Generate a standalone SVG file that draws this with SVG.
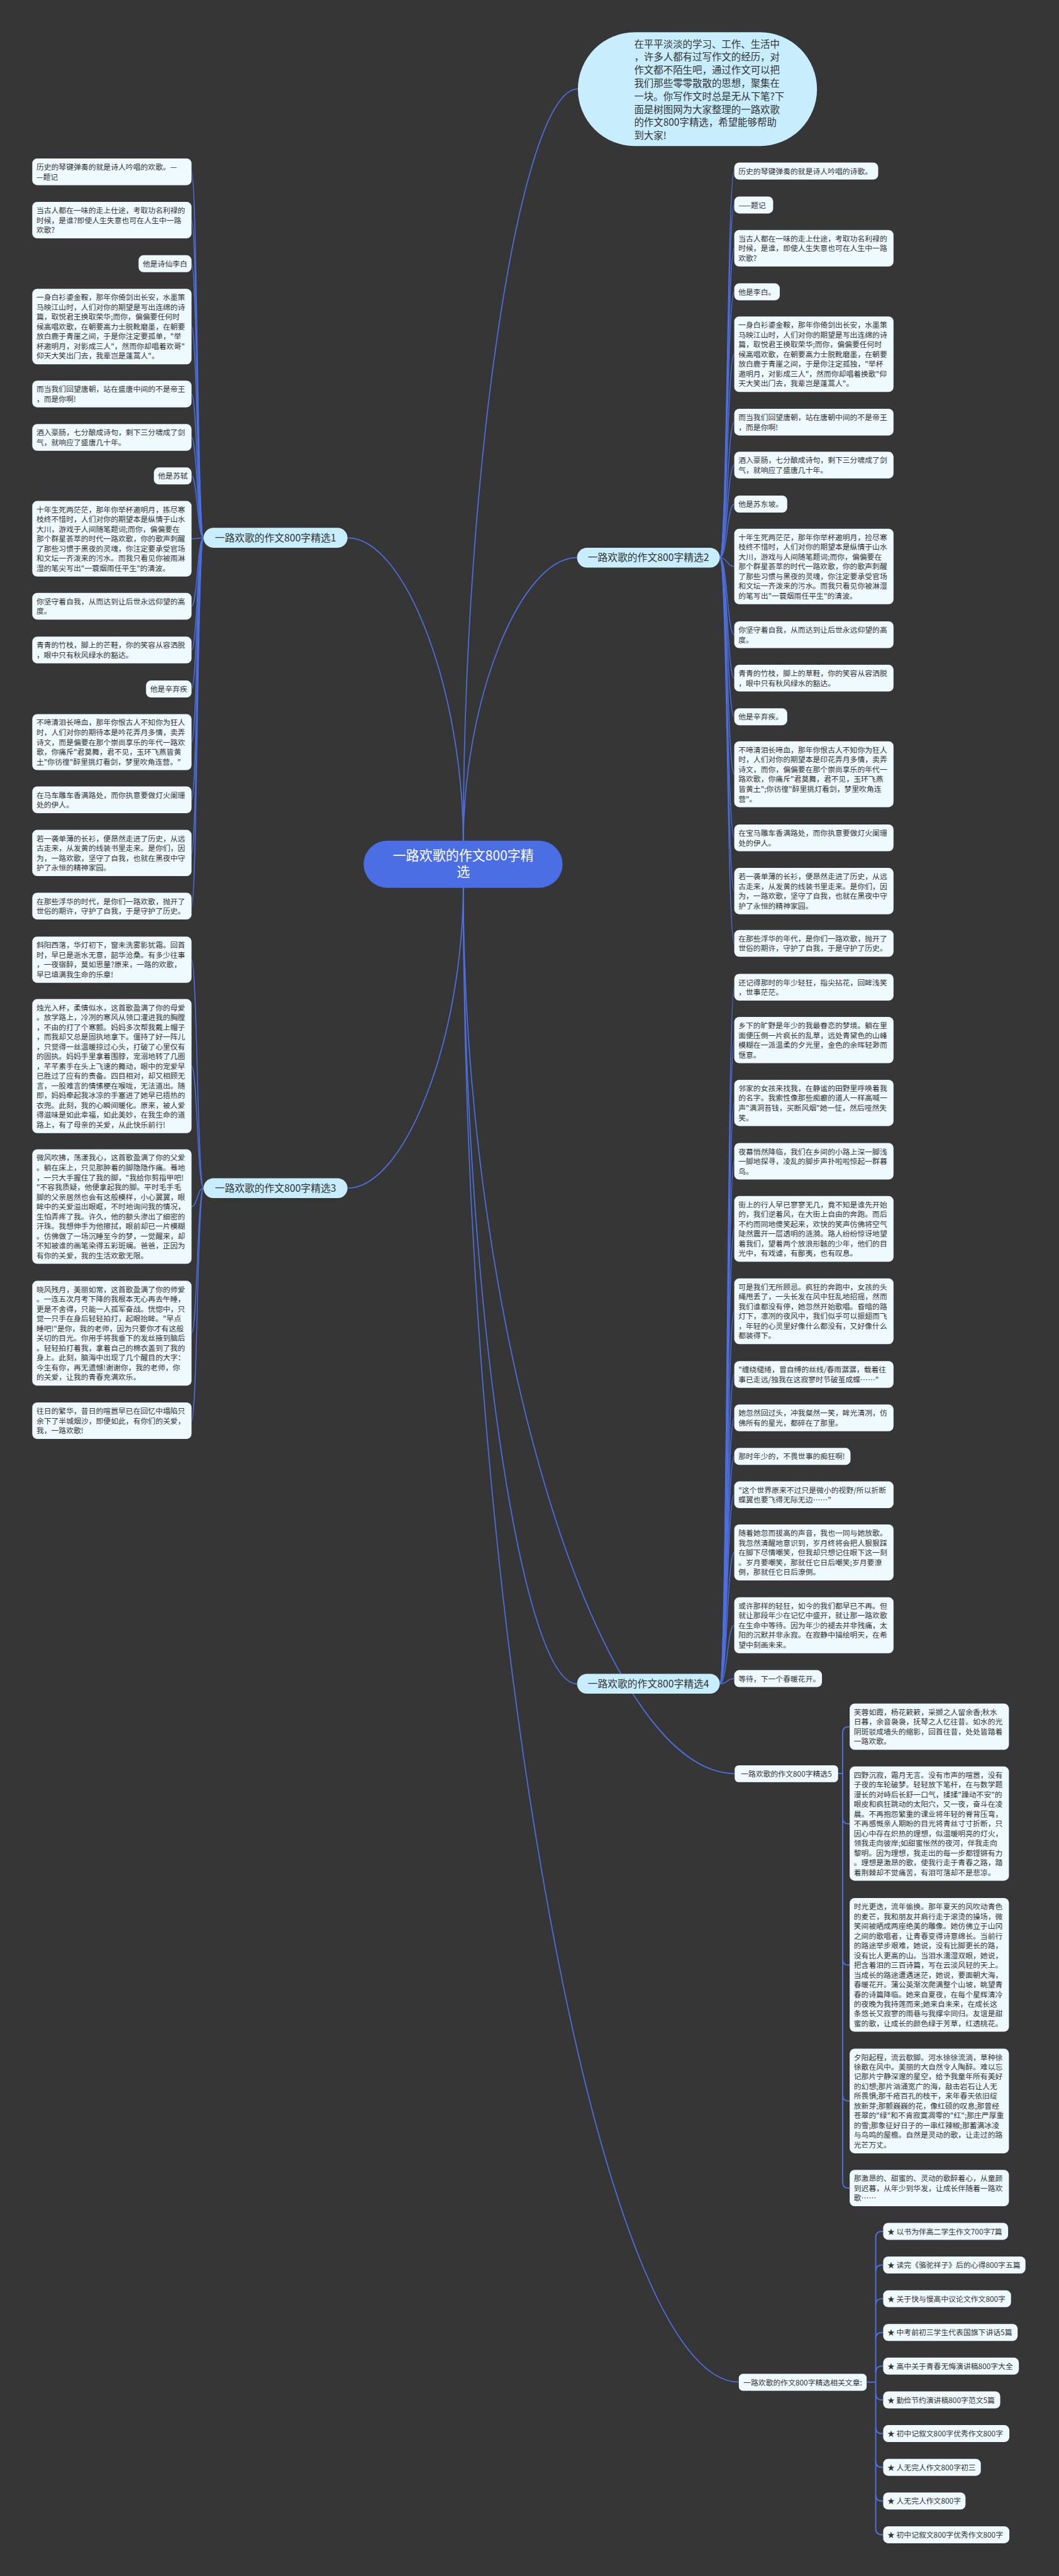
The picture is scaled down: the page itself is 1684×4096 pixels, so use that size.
<svg xmlns="http://www.w3.org/2000/svg" width="1684" height="4096" viewBox="0 0 1684 4096">
<style>
.t{font-family:"Noto Sans CJK SC","Noto Sans",sans-serif;font-size:18px;fill:#333333}
.n rect{fill:#eefaff}
.b rect{fill:#c8eefd}
.bt{font-family:"Noto Sans CJK SC","Noto Sans",sans-serif;font-size:24px;fill:#333333;text-anchor:middle}
.ct{font-family:"Noto Sans CJK SC","Noto Sans",sans-serif;font-size:32px;fill:#ffffff;text-anchor:middle}
.it{font-family:"Noto Sans CJK SC","Noto Sans",sans-serif;font-size:23.5px;fill:#333333}
.m{fill:none;stroke:#4d6fe0;stroke-width:2.6}
.e{fill:none;stroke:#4d6fe0;stroke-width:2.2}
.sp{fill:none;stroke:#4d6fe0;stroke-width:3}
</style>
<rect x="0" y="0" width="1684" height="4096" fill="#363636"/>
<g transform="scale(0.65781)">
<g id="connectors">
<path class="m" d="M1120,2040 C1120,1127 1258,215 1397,215"/>
<path class="m" d="M1120,2040 C1120,1670 980,1300 840,1300"/>
<path class="m" d="M1120,2040 C1120,1694 1257,1348 1395,1348"/>
<path class="m" d="M1120,2140 C1120,2506 980,2872 840,2872"/>
<path class="m" d="M1120,2140 C1120,3105 1257,4070 1395,4070"/>
<path class="m" d="M1120,2140 C1120,3213 1448,4287 1776,4287"/>
<path class="m" d="M1120,2140 C1120,3949 1453,5758 1786,5758"/>
<path class="e" d="M492,1300 C477,1300 477,415.3 463,415.3"/>
<path class="e" d="M492,1300 C477,1300 477,532.1 463,532.1"/>
<path class="e" d="M492,1300 C477,1300 477,637.5 463,637.5"/>
<path class="e" d="M492,1300 C477,1300 477,789.3 463,789.3"/>
<path class="e" d="M492,1300 C477,1300 477,952.3 463,952.3"/>
<path class="e" d="M492,1300 C477,1300 477,1057.3 463,1057.3"/>
<path class="e" d="M492,1300 C477,1300 477,1150.5 463,1150.5"/>
<path class="e" d="M492,1300 C477,1300 477,1302.3 463,1302.3"/>
<path class="e" d="M492,1300 C477,1300 477,1465.3 463,1465.3"/>
<path class="e" d="M492,1300 C477,1300 477,1571.3 463,1571.3"/>
<path class="e" d="M492,1300 C477,1300 477,1665.5 463,1665.5"/>
<path class="e" d="M492,1300 C477,1300 477,1793.7 463,1793.7"/>
<path class="e" d="M492,1300 C477,1300 477,1933.3 463,1933.3"/>
<path class="e" d="M492,1300 C477,1300 477,2061.9 463,2061.9"/>
<path class="e" d="M492,1300 C477,1300 477,2190.3 463,2190.3"/>
<path class="e" d="M492,2872 C477,2872 477,2319.9 463,2319.9"/>
<path class="e" d="M492,2872 C477,2872 477,2577.1 463,2577.1"/>
<path class="e" d="M492,2872 C477,2872 477,2916.5 463,2916.5"/>
<path class="e" d="M492,2872 C477,2872 477,3222.7 463,3222.7"/>
<path class="e" d="M492,2872 C477,2872 477,3434.1 463,3434.1"/>
<path class="e" d="M1740,1348 C1758,1348 1758,413.5 1775,413.5"/>
<path class="e" d="M1740,1348 C1758,1348 1758,495.5 1775,495.5"/>
<path class="e" d="M1740,1348 C1758,1348 1758,600.1 1775,600.1"/>
<path class="e" d="M1740,1348 C1758,1348 1758,705.5 1775,705.5"/>
<path class="e" d="M1740,1348 C1758,1348 1758,856.3 1775,856.3"/>
<path class="e" d="M1740,1348 C1758,1348 1758,1020.3 1775,1020.3"/>
<path class="e" d="M1740,1348 C1758,1348 1758,1124.3 1775,1124.3"/>
<path class="e" d="M1740,1348 C1758,1348 1758,1218.5 1775,1218.5"/>
<path class="e" d="M1740,1348 C1758,1348 1758,1369.3 1775,1369.3"/>
<path class="e" d="M1740,1348 C1758,1348 1758,1534.3 1775,1534.3"/>
<path class="e" d="M1740,1348 C1758,1348 1758,1639.3 1775,1639.3"/>
<path class="e" d="M1740,1348 C1758,1348 1758,1732.5 1775,1732.5"/>
<path class="e" d="M1740,1348 C1758,1348 1758,1871.5 1775,1871.5"/>
<path class="e" d="M1740,1348 C1758,1348 1758,2025.3 1775,2025.3"/>
<path class="e" d="M1740,1348 C1758,1348 1758,2153.9 1775,2153.9"/>
<path class="e" d="M1740,1348 C1758,1348 1758,2280.3 1775,2280.3"/>
<path class="e" d="M1740,4070 C1758,4070 1758,2386.3 1775,2386.3"/>
<path class="e" d="M1740,4070 C1758,4070 1758,2513.9 1775,2513.9"/>
<path class="e" d="M1740,4070 C1758,4070 1758,2665.9 1775,2665.9"/>
<path class="e" d="M1740,4070 C1758,4070 1758,2807.1 1775,2807.1"/>
<path class="e" d="M1740,4070 C1758,4070 1758,2970.5 1775,2970.5"/>
<path class="e" d="M1740,4070 C1758,4070 1758,3169.5 1775,3169.5"/>
<path class="e" d="M1740,4070 C1758,4070 1758,3322.3 1775,3322.3"/>
<path class="e" d="M1740,4070 C1758,4070 1758,3427.3 1775,3427.3"/>
<path class="e" d="M1740,4070 C1758,4070 1758,3520.5 1775,3520.5"/>
<path class="e" d="M1740,4070 C1758,4070 1758,3613.3 1775,3613.3"/>
<path class="e" d="M1740,4070 C1758,4070 1758,3752.7 1775,3752.7"/>
<path class="e" d="M1740,4070 C1758,4070 1758,3928.7 1775,3928.7"/>
<path class="e" d="M1740,4070 C1758,4070 1758,4057.5 1775,4057.5"/>
<path class="sp" d="M2026,4287 H2037 M2037,4188 V5275"/>
<path class="sp" d="M2037,4188 Q2037,4174 2051,4174 H2054"/>
<path class="sp" d="M2037,4394.5 Q2037,4408.5 2051,4408.5 H2054"/>
<path class="sp" d="M2037,4736 Q2037,4750 2051,4750 H2054"/>
<path class="sp" d="M2037,5064.7 Q2037,5078.7 2051,5078.7 H2054"/>
<path class="sp" d="M2037,5275 Q2037,5289 2051,5289 H2054"/>
<path class="sp" d="M2095,5758 H2117 M2117,5408.5 V6112"/>
<path class="sp" d="M2117,5408.5 Q2117,5393.5 2132,5393.5 H2135"/>
<path class="sp" d="M2117,5490 Q2117,5475 2132,5475 H2135"/>
<path class="sp" d="M2117,5571.5 Q2117,5556.5 2132,5556.5 H2135"/>
<path class="sp" d="M2117,5653 Q2117,5638 2132,5638 H2135"/>
<path class="sp" d="M2117,5734.5 Q2117,5719.5 2132,5719.5 H2135"/>
<path class="sp" d="M2117,5786 Q2117,5801 2132,5801 H2135"/>
<path class="sp" d="M2117,5867.5 Q2117,5882.5 2132,5882.5 H2135"/>
<path class="sp" d="M2117,5949 Q2117,5964 2132,5964 H2135"/>
<path class="sp" d="M2117,6030.5 Q2117,6045.5 2132,6045.5 H2135"/>
<path class="sp" d="M2117,6112 Q2117,6127 2132,6127 H2135"/>
</g>

<g id="intro"><rect x="1397" y="78" width="578" height="275" rx="137.5" fill="#c8eefd"/>
<text class="it"><tspan x="1533" y="115">在平平淡淡的学习、工作、生活中</tspan><tspan x="1533" dy="31.6">，许多人都有过写作文的经历，对</tspan><tspan x="1533" dy="31.6">作文都不陌生吧，通过作文可以把</tspan><tspan x="1533" dy="31.6">我们那些零零散散的思想，聚集在</tspan><tspan x="1533" dy="31.6">一块。你写作文时总是无从下笔?下</tspan><tspan x="1533" dy="31.6">面是树图网为大家整理的一路欢歌</tspan><tspan x="1533" dy="31.6">的作文800字精选，希望能够帮助</tspan><tspan x="1533" dy="31.6">到大家!</tspan></text></g>

<g id="center"><rect x="879" y="2032" width="481" height="114" rx="57" fill="#4b6ee4"/>
<text class="ct"><tspan x="1120" y="2079">一路欢歌的作文800字精</tspan><tspan x="1120" dy="40">选</tspan></text></g>

<g id="b1" class="b"><rect x="492" y="1276" width="348" height="48" rx="24"/><text class="bt" x="666" y="1308.5">一路欢歌的作文800字精选1</text></g>
<g id="b2" class="b"><rect x="1395" y="1324" width="345" height="48" rx="24"/><text class="bt" x="1567.5" y="1356.5">一路欢歌的作文800字精选2</text></g>
<g id="b3" class="b"><rect x="492" y="2848" width="348" height="48" rx="24"/><text class="bt" x="666" y="2880.5">一路欢歌的作文800字精选3</text></g>
<g id="b4" class="b"><rect x="1395" y="4046" width="345" height="48" rx="24"/><text class="bt" x="1567.5" y="4078.5">一路欢歌的作文800字精选4</text></g>
<g id="b5" class="n"><rect x="1776" y="4267" width="250" height="41" rx="10"/><text class="t" x="1901" y="4294.5" text-anchor="middle">一路欢歌的作文800字精选5</text></g>
<g id="b6" class="n"><rect x="1786" y="5738" width="309" height="41" rx="10"/><text class="t" x="1940.5" y="5765.5" text-anchor="middle">一路欢歌的作文800字精选相关文章:</text></g>

<g id="l1" class="n"><rect x="78" y="383" width="385" height="64.6" rx="12"/><text class="t"><tspan x="88" y="410.5">历史的琴键弹奏的就是诗人吟唱的欢歌。—</tspan><tspan x="88" dy="23.6">—题记</tspan></text></g>
<g id="l2" class="n"><rect x="78" y="488" width="385" height="88.2" rx="12"/><text class="t"><tspan x="88" y="515.5">当古人都在一味的走上仕途，考取功名利禄的</tspan><tspan x="88" dy="23.6">时候，是谁?即使人生失意也可在人生中一路</tspan><tspan x="88" dy="23.6">欢歌?</tspan></text></g>
<g id="l3" class="n"><rect x="335" y="617" width="128" height="41" rx="12"/><text class="t"><tspan x="345" y="644.5">他是诗仙李白</tspan></text></g>
<g id="l4" class="n"><rect x="78" y="698" width="385" height="182.6" rx="12"/><text class="t"><tspan x="88" y="725.5">一身白衫鎏金鞍，那年你倚剑出长安，水墨策</tspan><tspan x="88" dy="23.6">马映江山时，人们对你的期望是写出连绵的诗</tspan><tspan x="88" dy="23.6">篇，取悦君王换取荣华;而你，偏偏要任何时</tspan><tspan x="88" dy="23.6">候高唱欢歌，在朝要高力士脱靴磨墨，在朝要</tspan><tspan x="88" dy="23.6">放白鹿于青崖之间，于是你注定要孤单，"举</tspan><tspan x="88" dy="23.6">杯邀明月，对影成三人"，然而你却唱着欢哥"</tspan><tspan x="88" dy="23.6">仰天大笑出门去，我辈岂是蓬蒿人"。</tspan></text></g>
<g id="l5" class="n"><rect x="78" y="920" width="385" height="64.6" rx="12"/><text class="t"><tspan x="88" y="947.5">而当我们回望唐朝，站在盛唐中间的不是帝王</tspan><tspan x="88" dy="23.6">，而是你啊!</tspan></text></g>
<g id="l6" class="n"><rect x="78" y="1025" width="385" height="64.6" rx="12"/><text class="t"><tspan x="88" y="1052.5">酒入豪肠，七分酿成诗句，剩下三分啸成了剑</tspan><tspan x="88" dy="23.6">气，就响应了盛唐几十年。</tspan></text></g>
<g id="l7" class="n"><rect x="372" y="1130" width="91" height="41" rx="12"/><text class="t"><tspan x="382" y="1157.5">他是苏轼</tspan></text></g>
<g id="l8" class="n"><rect x="78" y="1211" width="385" height="182.6" rx="12"/><text class="t"><tspan x="88" y="1238.5">十年生死两茫茫，那年你举杯邀明月，拣尽寒</tspan><tspan x="88" dy="23.6">枝终不惜时，人们对你的期望本是纵情于山水</tspan><tspan x="88" dy="23.6">大川，游戏于人间随笔题词;而你，偏偏要在</tspan><tspan x="88" dy="23.6">那个群星荟萃的时代一路欢歌，你的歌声刺醒</tspan><tspan x="88" dy="23.6">了那些习惯于黑夜的灵魂，你注定要承受官场</tspan><tspan x="88" dy="23.6">和文坛一齐泼来的污水。而我只看见你被雨淋</tspan><tspan x="88" dy="23.6">湿的笔尖写出"一蓑烟雨任平生"的清波。</tspan></text></g>
<g id="l9" class="n"><rect x="78" y="1433" width="385" height="64.6" rx="12"/><text class="t"><tspan x="88" y="1460.5">你坚守着自我，从而达到让后世永远仰望的高</tspan><tspan x="88" dy="23.6">度。</tspan></text></g>
<g id="l10" class="n"><rect x="78" y="1539" width="385" height="64.6" rx="12"/><text class="t"><tspan x="88" y="1566.5">青青的竹枝，脚上的芒鞋，你的笑容从容洒脱</tspan><tspan x="88" dy="23.6">，眼中只有秋风绿水的豁达。</tspan></text></g>
<g id="l11" class="n"><rect x="353" y="1645" width="110" height="41" rx="12"/><text class="t"><tspan x="363" y="1672.5">他是辛弃疾</tspan></text></g>
<g id="l12" class="n"><rect x="78" y="1726" width="385" height="135.4" rx="12"/><text class="t"><tspan x="88" y="1753.5">不啼清泪长啼血，那年你恨古人不知你为狂人</tspan><tspan x="88" dy="23.6">时，人们对你的期待本是吟花弄月多情，卖弄</tspan><tspan x="88" dy="23.6">诗文，而是偏要在那个崇尚享乐的年代一路欢</tspan><tspan x="88" dy="23.6">歌，你痛斥"君莫舞，君不见，玉环飞燕皆黄</tspan><tspan x="88" dy="23.6">土"你彷徨"醉里挑灯看剑，梦里吹角连营。"</tspan></text></g>
<g id="l13" class="n"><rect x="78" y="1901" width="385" height="64.6" rx="12"/><text class="t"><tspan x="88" y="1928.5">在马车雕车香满路处，而你执意要做灯火阑珊</tspan><tspan x="88" dy="23.6">处的伊人。</tspan></text></g>
<g id="l14" class="n"><rect x="78" y="2006" width="385" height="111.8" rx="12"/><text class="t"><tspan x="88" y="2033.5">若一袭单薄的长衫，便昂然走进了历史，从远</tspan><tspan x="88" dy="23.6">古走来，从发黄的线装书里走来。是你们，因</tspan><tspan x="88" dy="23.6">为，一路欢歌，坚守了自我，也就在黑夜中守</tspan><tspan x="88" dy="23.6">护了永恒的精神家园。</tspan></text></g>
<g id="l15" class="n"><rect x="78" y="2158" width="385" height="64.6" rx="12"/><text class="t"><tspan x="88" y="2185.5">在那些浮华的时代，是你们一路欢歌，抛开了</tspan><tspan x="88" dy="23.6">世俗的期许，守护了自我，于是守护了历史。</tspan></text></g>
<g id="l16" class="n"><rect x="78" y="2264" width="385" height="111.8" rx="12"/><text class="t"><tspan x="88" y="2291.5">斜阳西落，华灯初下，窗未洗雾影犹霜。回首</tspan><tspan x="88" dy="23.6">时，早已是逝水无意，韶华沧桑。有多少往事</tspan><tspan x="88" dy="23.6">，一夜宿醉，莫如思量?原来，一路的欢歌，</tspan><tspan x="88" dy="23.6">早已填满我生命的乐章!</tspan></text></g>
<g id="l17" class="n"><rect x="78" y="2415" width="385" height="324.2" rx="12"/><text class="t"><tspan x="88" y="2442.5">烛光入杯，柔情似水，这首歌盈满了你的母爱</tspan><tspan x="88" dy="23.6">。放学路上，冷冽的寒风从领口灌进我的胸膛</tspan><tspan x="88" dy="23.6">，不由的打了个寒颤。妈妈多次帮我戴上帽子</tspan><tspan x="88" dy="23.6">，而我却又总是固执地拿下。僵持了好一阵儿</tspan><tspan x="88" dy="23.6">，只觉得一丝温暖掠过心头，打破了心里仅有</tspan><tspan x="88" dy="23.6">的固执。妈妈手里拿着围脖，宠溺地转了几圈</tspan><tspan x="88" dy="23.6">，芊芊素手在头上飞速的舞动，眼中的宠爱早</tspan><tspan x="88" dy="23.6">已胜过了应有的责备。四目相对，却又相顾无</tspan><tspan x="88" dy="23.6">言，一股难言的情愫梗在喉咙，无法道出。随</tspan><tspan x="88" dy="23.6">即，妈妈牵起我冰凉的手塞进了她早已捂热的</tspan><tspan x="88" dy="23.6">衣兜。此刻，我的心瞬间暖化。原来，被人爱</tspan><tspan x="88" dy="23.6">得滋味是如此幸福，如此美妙，在我生命的道</tspan><tspan x="88" dy="23.6">路上，有了母亲的关爱，从此快乐前行!</tspan></text></g>
<g id="l18" class="n"><rect x="78" y="2778" width="385" height="277" rx="12"/><text class="t"><tspan x="88" y="2805.5">微风吹拂，荡漾我心，这首歌盈满了你的父爱</tspan><tspan x="88" dy="23.6">。躺在床上，只见那肿着的脚隐隐作痛。蓦地</tspan><tspan x="88" dy="23.6">，一只大手握住了我的脚，"我给你剪指甲吧!</tspan><tspan x="88" dy="23.6">"不容我质疑，他便拿起我的脚。平时毛手毛</tspan><tspan x="88" dy="23.6">脚的父亲居然也会有这般模样，小心翼翼，眼</tspan><tspan x="88" dy="23.6">眸中的关爱溢出眼眶，不时地询问我的情况，</tspan><tspan x="88" dy="23.6">生怕弄疼了我。许久，他的额头渗出了细密的</tspan><tspan x="88" dy="23.6">汗珠。我想伸手为他擦拭，眼前却已一片模糊</tspan><tspan x="88" dy="23.6">。仿佛做了一场沉睡至今的梦，一觉醒来，却</tspan><tspan x="88" dy="23.6">不知被谁的画笔染得五彩斑斓。爸爸，正因为</tspan><tspan x="88" dy="23.6">有你的关爱，我的生活欢歌无限。</tspan></text></g>
<g id="l19" class="n"><rect x="78" y="3096" width="385" height="253.4" rx="12"/><text class="t"><tspan x="88" y="3123.5">晓风残月，美丽如常，这首歌盈满了你的师爱</tspan><tspan x="88" dy="23.6">。一连五次月考下降的我根本无心再去午睡，</tspan><tspan x="88" dy="23.6">更是不舍得，只能一人孤军奋战。恍惚中，只</tspan><tspan x="88" dy="23.6">觉一只手在身后轻轻拍打，起眼抬眸。"早点</tspan><tspan x="88" dy="23.6">睡吧!"是你，我的老师，因为只要你才有这般</tspan><tspan x="88" dy="23.6">关切的目光。你用手将我垂下的发丝掖到脑后</tspan><tspan x="88" dy="23.6">。轻轻拍打着我，拿着自己的棉衣盖到了我的</tspan><tspan x="88" dy="23.6">身上。此刻，脑海中出现了几个醒目的大字：</tspan><tspan x="88" dy="23.6">今生有你，再无遗憾!谢谢你，我的老师，你</tspan><tspan x="88" dy="23.6">的关爱，让我的青春充满欢乐。</tspan></text></g>
<g id="l20" class="n"><rect x="78" y="3390" width="385" height="88.2" rx="12"/><text class="t"><tspan x="88" y="3417.5">往日的繁华，昔日的喧嚣早已在回忆中塌陷只</tspan><tspan x="88" dy="23.6">余下了半城烟沙，即便如此，有你们的关爱，</tspan><tspan x="88" dy="23.6">我，一路欢歌!</tspan></text></g>

<g id="r1" class="n"><rect x="1775" y="393" width="348" height="41" rx="12"/><text class="t"><tspan x="1785" y="420.5">历史的琴键弹奏的就是诗人吟唱的诗歌。</tspan></text></g>
<g id="r2" class="n"><rect x="1775" y="475" width="94" height="41" rx="12"/><text class="t"><tspan x="1785" y="502.5">——题记</tspan></text></g>
<g id="r3" class="n"><rect x="1775" y="556" width="385" height="88.2" rx="12"/><text class="t"><tspan x="1785" y="583.5">当古人都在一味的走上仕途，考取功名利禄的</tspan><tspan x="1785" dy="23.6">时候，是谁，即使人生失意也可在人生中一路</tspan><tspan x="1785" dy="23.6">欢歌?</tspan></text></g>
<g id="r4" class="n"><rect x="1775" y="685" width="110" height="41" rx="12"/><text class="t"><tspan x="1785" y="712.5">他是李白。</tspan></text></g>
<g id="r5" class="n"><rect x="1775" y="765" width="385" height="182.6" rx="12"/><text class="t"><tspan x="1785" y="792.5">一身白衫鎏金鞍，那年你倚剑出长安，水墨策</tspan><tspan x="1785" dy="23.6">马映江山时，人们对你的期望是写出连绵的诗</tspan><tspan x="1785" dy="23.6">篇，取悦君王换取荣华;而你，偏偏要任何时</tspan><tspan x="1785" dy="23.6">候高唱欢歌，在朝要高力士脱靴磨墨，在朝要</tspan><tspan x="1785" dy="23.6">放白鹿于青崖之间，于是你注定孤独，"举杯</tspan><tspan x="1785" dy="23.6">邀明月，对影成三人"，然而你却唱着换歌"仰</tspan><tspan x="1785" dy="23.6">天大笑出门去，我辈岂是蓬蒿人"。</tspan></text></g>
<g id="r6" class="n"><rect x="1775" y="988" width="385" height="64.6" rx="12"/><text class="t"><tspan x="1785" y="1015.5">而当我们回望唐朝，站在唐朝中间的不是帝王</tspan><tspan x="1785" dy="23.6">，而是你啊!</tspan></text></g>
<g id="r7" class="n"><rect x="1775" y="1092" width="385" height="64.6" rx="12"/><text class="t"><tspan x="1785" y="1119.5">酒入豪肠，七分酿成诗句，剩下三分啸成了剑</tspan><tspan x="1785" dy="23.6">气，就响应了盛唐几十年。</tspan></text></g>
<g id="r8" class="n"><rect x="1775" y="1198" width="128" height="41" rx="12"/><text class="t"><tspan x="1785" y="1225.5">他是苏东坡。</tspan></text></g>
<g id="r9" class="n"><rect x="1775" y="1278" width="385" height="182.6" rx="12"/><text class="t"><tspan x="1785" y="1305.5">十年生死两茫茫，那年你举杯邀明月，捡尽寒</tspan><tspan x="1785" dy="23.6">枝终不惜时，人们对你的期望本是纵情于山水</tspan><tspan x="1785" dy="23.6">大川，游戏与人间随笔题词;而你，偏偏要在</tspan><tspan x="1785" dy="23.6">那个群星荟萃的时代一路欢歌，你的歌声刺醒</tspan><tspan x="1785" dy="23.6">了那些习惯与黑夜的灵魂，你注定要承受官场</tspan><tspan x="1785" dy="23.6">和文坛一齐泼来的污水。而我只看见你被淋湿</tspan><tspan x="1785" dy="23.6">的笔写出"一蓑烟雨任平生"的清波。</tspan></text></g>
<g id="r10" class="n"><rect x="1775" y="1502" width="385" height="64.6" rx="12"/><text class="t"><tspan x="1785" y="1529.5">你坚守着自我，从而达到让后世永远仰望的高</tspan><tspan x="1785" dy="23.6">度。</tspan></text></g>
<g id="r11" class="n"><rect x="1775" y="1607" width="385" height="64.6" rx="12"/><text class="t"><tspan x="1785" y="1634.5">青青的竹枝，脚上的草鞋，你的笑容从容洒脱</tspan><tspan x="1785" dy="23.6">，眼中只有秋风绿水的豁达。</tspan></text></g>
<g id="r12" class="n"><rect x="1775" y="1712" width="128" height="41" rx="12"/><text class="t"><tspan x="1785" y="1739.5">他是辛弃疾。</tspan></text></g>
<g id="r13" class="n"><rect x="1775" y="1792" width="385" height="159" rx="12"/><text class="t"><tspan x="1785" y="1819.5">不啼清泪长啼血，那年你恨古人不知你为狂人</tspan><tspan x="1785" dy="23.6">时，人们对你的期望本是印花弄月多情，卖弄</tspan><tspan x="1785" dy="23.6">诗文，而你，偏偏要在那个崇尚享乐的年代一</tspan><tspan x="1785" dy="23.6">路欢歌，你痛斥"君莫舞，君不见，玉环飞燕</tspan><tspan x="1785" dy="23.6">皆黄土";你彷徨"醉里挑灯看剑，梦里吹角连</tspan><tspan x="1785" dy="23.6">营"。</tspan></text></g>
<g id="r14" class="n"><rect x="1775" y="1993" width="385" height="64.6" rx="12"/><text class="t"><tspan x="1785" y="2020.5">在宝马雕车香满路处，而你执意要做灯火阑珊</tspan><tspan x="1785" dy="23.6">处的伊人。</tspan></text></g>
<g id="r15" class="n"><rect x="1775" y="2098" width="385" height="111.8" rx="12"/><text class="t"><tspan x="1785" y="2125.5">若一袭单薄的长衫，便昂然走进了历史，从远</tspan><tspan x="1785" dy="23.6">古走来，从发黄的线装书里走来。是你们，因</tspan><tspan x="1785" dy="23.6">为，一路欢歌，坚守了自我，也就在黑夜中守</tspan><tspan x="1785" dy="23.6">护了永恒的精神家园。</tspan></text></g>
<g id="r16" class="n"><rect x="1775" y="2248" width="385" height="64.6" rx="12"/><text class="t"><tspan x="1785" y="2275.5">在那些浮华的年代，是你们一路欢歌，抛开了</tspan><tspan x="1785" dy="23.6">世俗的期许，守护了自我，于是守护了历史。</tspan></text></g>
<g id="r17" class="n"><rect x="1775" y="2354" width="385" height="64.6" rx="12"/><text class="t"><tspan x="1785" y="2381.5">还记得那时的年少轻狂，指尖拈花，回眸浅笑</tspan><tspan x="1785" dy="23.6">，世事茫茫。</tspan></text></g>
<g id="r18" class="n"><rect x="1775" y="2458" width="385" height="111.8" rx="12"/><text class="t"><tspan x="1785" y="2485.5">乡下的旷野是年少的我最眷恋的梦境。躺在里</tspan><tspan x="1785" dy="23.6">面便压倒一片疯长的乱草，远处青黛色的山峰</tspan><tspan x="1785" dy="23.6">模糊在一派温柔的夕光里，金色的余晖轻渺而</tspan><tspan x="1785" dy="23.6">惬意。</tspan></text></g>
<g id="r19" class="n"><rect x="1775" y="2610" width="385" height="111.8" rx="12"/><text class="t"><tspan x="1785" y="2637.5">邻家的女孩来找我，在静谧的田野里呼唤着我</tspan><tspan x="1785" dy="23.6">的名字。我索性像那些痴癫的道人一样高喊一</tspan><tspan x="1785" dy="23.6">声"满洞苔钱，买断风烟"她一怔，然后哑然失</tspan><tspan x="1785" dy="23.6">笑。</tspan></text></g>
<g id="r20" class="n"><rect x="1775" y="2763" width="385" height="88.2" rx="12"/><text class="t"><tspan x="1785" y="2790.5">夜幕悄然降临，我们在乡间的小路上深一脚浅</tspan><tspan x="1785" dy="23.6">一脚地探寻，凌乱的脚步声扑啦啦惊起一群暮</tspan><tspan x="1785" dy="23.6">鸟。</tspan></text></g>
<g id="r21" class="n"><rect x="1775" y="2891" width="385" height="159" rx="12"/><text class="t"><tspan x="1785" y="2918.5">街上的行人早已寥寥无几，竟不知是谁先开始</tspan><tspan x="1785" dy="23.6">的，我们逆着风，在大街上自由的奔跑。而后</tspan><tspan x="1785" dy="23.6">不约而同地傻笑起来，欢快的笑声仿佛将空气</tspan><tspan x="1785" dy="23.6">陡然震开一层透明的涟漪。路人纷纷惊讶地望</tspan><tspan x="1785" dy="23.6">着我们，望着两个放浪形骸的少年，他们的目</tspan><tspan x="1785" dy="23.6">光中，有戏谑，有鄙夷，也有叹息。</tspan></text></g>
<g id="r22" class="n"><rect x="1775" y="3090" width="385" height="159" rx="12"/><text class="t"><tspan x="1785" y="3117.5">可是我们无所顾忌。疯狂的奔跑中，女孩的头</tspan><tspan x="1785" dy="23.6">绳甩丢了，一头长发在风中狂乱地招摇，然而</tspan><tspan x="1785" dy="23.6">我们谁都没有停，她忽然开始歌唱。昏暗的路</tspan><tspan x="1785" dy="23.6">灯下，凛冽的夜风中，我们似乎可以振翅而飞</tspan><tspan x="1785" dy="23.6">，年轻的心灵里好像什么都没有，又好像什么</tspan><tspan x="1785" dy="23.6">都装得下。</tspan></text></g>
<g id="r23" class="n"><rect x="1775" y="3290" width="385" height="64.6" rx="12"/><text class="t"><tspan x="1785" y="3317.5">"缠绕缱绻，曾自缚的丝线/春雨潺潺，载着往</tspan><tspan x="1785" dy="23.6">事已走远/独我在这寂寥时节破茧成蝶……"</tspan></text></g>
<g id="r24" class="n"><rect x="1775" y="3395" width="385" height="64.6" rx="12"/><text class="t"><tspan x="1785" y="3422.5">她忽然回过头，冲我粲然一笑，眸光清冽，仿</tspan><tspan x="1785" dy="23.6">佛所有的星光，都碎在了那里。</tspan></text></g>
<g id="r25" class="n"><rect x="1775" y="3500" width="281" height="41" rx="12"/><text class="t"><tspan x="1785" y="3527.5">那时年少的，不畏世事的痴狂啊!</tspan></text></g>
<g id="r26" class="n"><rect x="1775" y="3581" width="385" height="64.6" rx="12"/><text class="t"><tspan x="1785" y="3608.5">"这个世界原来不过只是微小的视野/所以折断</tspan><tspan x="1785" dy="23.6">蝶翼也要飞得无际无边……"</tspan></text></g>
<g id="r27" class="n"><rect x="1775" y="3685" width="385" height="135.4" rx="12"/><text class="t"><tspan x="1785" y="3712.5">随着她忽而拔高的声音，我也一同与她放歌。</tspan><tspan x="1785" dy="23.6">我忽然清醒地意识到，岁月终将会把人狠狠踩</tspan><tspan x="1785" dy="23.6">在脚下尽情嘲笑，但我却只想记住眼下这一刻</tspan><tspan x="1785" dy="23.6">。岁月要嘲笑，那就任它日后嘲笑;岁月要潦</tspan><tspan x="1785" dy="23.6">倒，那就任它日后潦倒。</tspan></text></g>
<g id="r28" class="n"><rect x="1775" y="3861" width="385" height="135.4" rx="12"/><text class="t"><tspan x="1785" y="3888.5">或许那样的轻狂，如今的我们都早已不再。但</tspan><tspan x="1785" dy="23.6">就让那段年少在记忆中盛开，就让那一路欢歌</tspan><tspan x="1785" dy="23.6">在生命中等待。因为年少的褪去并非残痛，太</tspan><tspan x="1785" dy="23.6">阳的沉默并非永寂。在寂静中描绘明天，在希</tspan><tspan x="1785" dy="23.6">望中刻画未来。</tspan></text></g>
<g id="r29" class="n"><rect x="1775" y="4037" width="212" height="41" rx="12"/><text class="t"><tspan x="1785" y="4064.5">等待，下一个春暖花开。</tspan></text></g>

<g id="s1" class="n"><rect x="2054" y="4118" width="385" height="111.5" rx="12"/><text class="t"><tspan x="2064" y="4145.5">芙蓉如霞，杨花簌簌，采撷之人留余香;秋水</tspan><tspan x="2064" dy="23.5">日暮，余音袅袅，抚琴之人忆往昔。如水的光</tspan><tspan x="2064" dy="23.5">阴斑驳成墙头的缩影，回首往昔，处处皆踏着</tspan><tspan x="2064" dy="23.5">一路欢歌。</tspan></text></g>
<g id="s2" class="n"><rect x="2054" y="4270" width="385" height="276" rx="12"/><text class="t"><tspan x="2064" y="4297.5">四野沉寂，霜月无言。没有市声的喧嚣，没有</tspan><tspan x="2064" dy="23.5">子夜的车轮破梦。轻轻放下笔杆，在与数学题</tspan><tspan x="2064" dy="23.5">漫长的对峙后长舒一口气，揉揉"躁动不安"的</tspan><tspan x="2064" dy="23.5">眼皮和疯狂跳动的太阳穴，又一夜，奋斗在凌</tspan><tspan x="2064" dy="23.5">晨。不再抱怨繁重的课业将年轻的脊背压弯，</tspan><tspan x="2064" dy="23.5">不再感慨亲人期盼的目光将青丝寸寸折断，只</tspan><tspan x="2064" dy="23.5">因心中存在炽热的理想，似温暖明亮的灯火，</tspan><tspan x="2064" dy="23.5">领我走向彼岸;如甜蜜怅然的夜河，伴我走向</tspan><tspan x="2064" dy="23.5">黎明。因为理想，我走出的每一步都铿锵有力</tspan><tspan x="2064" dy="23.5">。理想是激昂的歌，使我行走于青春之路，踏</tspan><tspan x="2064" dy="23.5">着荆棘却不觉痛苦，有泪可落却不是悲凉。</tspan></text></g>
<g id="s3" class="n"><rect x="2054" y="4588" width="385" height="323" rx="12"/><text class="t"><tspan x="2064" y="4616">时光更迭，流年偷换。那年夏天的风吹动青色</tspan><tspan x="2064" dy="23.5">的麦芒，我和朋友并肩行走于滚烫的操场，微</tspan><tspan x="2064" dy="23.5">笑间被晒成两座绝美的雕像。她仿佛立于山冈</tspan><tspan x="2064" dy="23.5">之间的歌唱者，让青春变得诗意绵长。当前行</tspan><tspan x="2064" dy="23.5">的路途举步艰难，她说，没有比脚更长的路，</tspan><tspan x="2064" dy="23.5">没有比人更高的山。当泪水濡湿双眼，她说，</tspan><tspan x="2064" dy="23.5">把含着泪的三百诗篇，写在云淡风轻的天上。</tspan><tspan x="2064" dy="23.5">当成长的路途遭遇迷茫，她说，要面朝大海，</tspan><tspan x="2064" dy="23.5">春暖花开。蒲公英渐次爬满整个山坡，眺望青</tspan><tspan x="2064" dy="23.5">春的诗篇降临。她来自夏夜，在每个星辉清冷</tspan><tspan x="2064" dy="23.5">的夜晚为我持莲而来;她来自未来，在成长这</tspan><tspan x="2064" dy="23.5">条悠长又寂寥的雨巷与我撑伞同归。友谊是甜</tspan><tspan x="2064" dy="23.5">蜜的歌，让成长的颜色绿于芳草，红透桃花。</tspan></text></g>
<g id="s4" class="n"><rect x="2054" y="4952" width="385" height="253" rx="12"/><text class="t"><tspan x="2064" y="4979.5">夕阳起程，流云歇脚。河水徐徐流淌，草种徐</tspan><tspan x="2064" dy="23.5">徐散在风中。美丽的大自然令人陶醉。难以忘</tspan><tspan x="2064" dy="23.5">记那片宁静深邃的星空，给予我童年所有美好</tspan><tspan x="2064" dy="23.5">的幻想;那片汹涌宽广的海，敲击岩石让人无</tspan><tspan x="2064" dy="23.5">所畏惧;那千疮百孔的枝干，来年春天依旧绽</tspan><tspan x="2064" dy="23.5">放新芽;那颤巍巍的花，像红硕的叹息;那曾经</tspan><tspan x="2064" dy="23.5">苍翠的"绿"和不肯寂寞凋零的"红";那庄严厚重</tspan><tspan x="2064" dy="23.5">的雪;那象征好日子的一串红辣椒;那蓄满冰凌</tspan><tspan x="2064" dy="23.5">与鸟鸣的屋檐。自然是灵动的歌，让走过的路</tspan><tspan x="2064" dy="23.5">光芒万丈。</tspan></text></g>
<g id="s5" class="n"><rect x="2054" y="5245" width="385" height="88" rx="12"/><text class="t"><tspan x="2064" y="5272.5">那激昂的、甜蜜的、灵动的歌醉着心，从童颜</tspan><tspan x="2064" dy="23.5">到迟暮，从年少到华发，让成长伴随着一路欢</tspan><tspan x="2064" dy="23.5">歌……</tspan></text></g>

<g id="t1" class="n"><rect x="2135" y="5373" width="302" height="41" rx="12"/><text class="t" x="2145" y="5400.5">★ 以书为伴高二学生作文700字7篇</text></g>
<g id="t2" class="n"><rect x="2135" y="5454.5" width="344" height="41" rx="12"/><text class="t" x="2145" y="5482">★ 读完《骆驼祥子》后的心得800字五篇</text></g>
<g id="t3" class="n"><rect x="2135" y="5536" width="309" height="41" rx="12"/><text class="t" x="2145" y="5563.5">★ 关于快与慢高中议论文作文800字</text></g>
<g id="t4" class="n"><rect x="2135" y="5617.5" width="325" height="41" rx="12"/><text class="t" x="2145" y="5645">★ 中考前初三学生代表国旗下讲话5篇</text></g>
<g id="t5" class="n"><rect x="2135" y="5699" width="328" height="41" rx="12"/><text class="t" x="2145" y="5726.5">★ 高中关于青春无悔演讲稿800字大全</text></g>
<g id="t6" class="n"><rect x="2135" y="5780.5" width="283" height="41" rx="12"/><text class="t" x="2145" y="5808">★ 勤俭节约演讲稿800字范文5篇</text></g>
<g id="t7" class="n"><rect x="2135" y="5862" width="305" height="41" rx="12"/><text class="t" x="2145" y="5889.5">★ 初中记叙文800字优秀作文800字</text></g>
<g id="t8" class="n"><rect x="2135" y="5943.5" width="236" height="41" rx="12"/><text class="t" x="2145" y="5971">★ 人无完人作文800字初三</text></g>
<g id="t9" class="n"><rect x="2135" y="6025" width="199" height="41" rx="12"/><text class="t" x="2145" y="6052.5">★ 人无完人作文800字</text></g>
<g id="t10" class="n"><rect x="2135" y="6106.5" width="305" height="41" rx="12"/><text class="t" x="2145" y="6134">★ 初中记叙文800字优秀作文800字</text></g>
</g>
</svg>
